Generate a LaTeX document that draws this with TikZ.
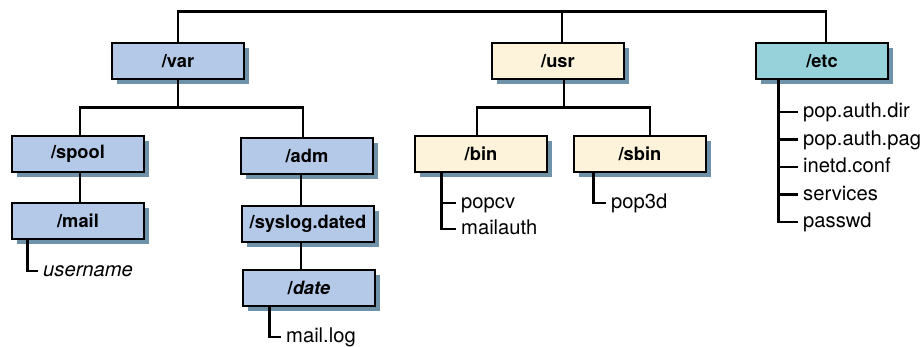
\documentclass[tikz,border=0pt]{standalone}
\usepackage{fontspec}
\setmainfont{TeX Gyre Heros}
\usetikzlibrary{shadows}
\definecolor{dirblue}{HTML}{B4C8E8}
\definecolor{dircream}{HTML}{FCF3DA}
\definecolor{dirteal}{HTML}{97D2DB}
\definecolor{dropblue}{HTML}{7092A8}
\tikzset{
  dirbox/.style={draw, line width=2.8pt, minimum width=132pt, minimum height=36pt, inner sep=0pt,
    font=\fontsize{18.3}{20}\selectfont\bfseries,
    drop shadow={shadow xshift=5pt, shadow yshift=-5pt, fill=dropblue, opacity=1}},
  leaf/.style={anchor=west, inner xsep=5pt, inner ysep=0pt, text height=14pt, text depth=3pt,
    font=\fontsize{20.2}{22}\selectfont},
  link/.style={line width=2.4pt}
}

\begin{document}
\begin{tikzpicture}[x=1pt, y=-1pt]
				\useasboundingbox (0,0) rectangle (923,346);
				
				\node[dirbox, fill=dirblue] (var) at (178,61) {/var};
				\node[dirbox, fill=dircream] (usr) at (558,61) {/usr};
				\node[dirbox, fill=dirteal] (etc) at (822,61) {/etc};
				
				\node[dirbox, fill=dirblue] (spool) at (78,154) {/spool};
				\node[dirbox, fill=dirblue] (mail) at (78,221) {/mail};
				\node[dirbox, fill=dirblue] (adm) at (307,156) {/adm};
				\node[dirbox, fill=dirblue] (syslog) at (308,224) {/syslog.dated};
				\node[dirbox, fill=dirblue] (date) at (309,288) {/\textit{date}};
				\node[dirbox, fill=dircream] (bin) at (481,154) {/bin};
				\node[dirbox, fill=dircream] (sbin) at (640,154) {/sbin};
				
				\draw[link] (var.north) -- ++(0,-30) -| ([xshift=4pt]etc.north);
				\draw[link] ([xshift=4pt]usr.north) -- ++(0,-30);
				
				\draw[link] (var.south) -- ++(0,27) -| ([xshift=2pt]spool.north);
				\draw[link] (var.south) ++(0,27) -| ([xshift=-4pt]adm.north);
				\draw[link] ([xshift=2pt]spool.south) -- ([xshift=2pt]mail.north);
				\draw[link] ([xshift=-6pt]adm.south) -- ([xshift=-7pt]syslog.north);
				\draw[link] ([xshift=-7pt]syslog.south) -- ([xshift=-8pt]date.north);
				
				\draw[link] ([xshift=6pt]usr.south) -- ++(0,27) -| ([xshift=-4pt]bin.north);
				\draw[link] ([xshift=6pt]usr.south) ++(0,27) -| ([xshift=10pt]sbin.north);
				
				\node[leaf] (uname) at (38,271) {\textit{username}};
				\draw[link] ([xshift=17pt]mail.south west) |- (uname.west);
				
				\node[leaf] (log) at (281,337) {mail.log};
				\draw[link] ([xshift=28pt]date.south west) |- (log.west);
				
				\node[leaf] (popcv) at (456,203) {popcv};
				\node[leaf] (mauth) at (456,229) {mailauth};
				\foreach \f in {popcv,mauth}
					\draw[link] ([xshift=28pt]bin.south west) |- (\f.west);
				
				\node[leaf] (pop3d) at (606,203) {pop3d};
				\draw[link] ([xshift=21pt]sbin.south west) |- (pop3d.west);
				
				\foreach \f [count=\i] in {pop.auth.dir,pop.auth.pag,inetd.conf,services,passwd}{
					\node[leaf] (e\i) at (798,{112+27.5*(\i-1)}) {\f};
					\draw[link] ([xshift=24pt]etc.south west) |- (e\i.west);
				}
			\end{tikzpicture}
\end{document}
